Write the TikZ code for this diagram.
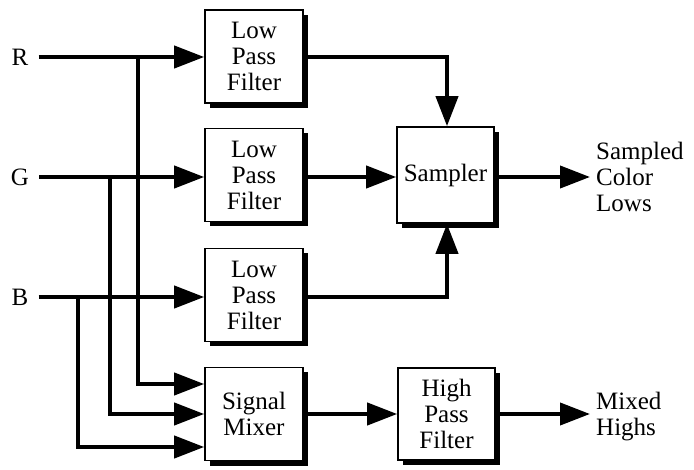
\documentclass[tikz,border=0pt]{standalone}
\usepackage{fontspec}
\setmainfont{Liberation Serif}
\usetikzlibrary{arrows.meta,shadows}
\begin{document}
\begin{tikzpicture}[x=1pt,y=-1pt,
  font=\fontsize{25}{26}\selectfont,
  blk/.style={draw,line width=1.6pt,fill=white,minimum width=98pt,minimum height=93pt,
    inner sep=0pt,align=center,
    drop shadow={shadow xshift=5pt,shadow yshift=-5pt,fill=black,opacity=1}},
  wire/.style={line width=4pt},
  arr/.style={wire,-{Triangle[length=30pt,width=22pt]}},
  lbl/.style={inner sep=0pt,align=left}]
\useasboundingbox (0,0) rectangle (694,470);
% inputs
\node[lbl] (R) at (20,57) {R};
\node[lbl] (G) at (20,177) {G};
\node[lbl] (B) at (20,297) {B};
% boxes
\node[blk] (lpf1) at (254,56.5) {Low\\Pass\\Filter};
\node[blk] (lpf2) at (254,175) {Low\\Pass\\Filter};
\node[blk] (lpf3) at (254,295) {Low\\Pass\\Filter};
\node[blk] (mix) at (254,414) {Signal\\Mixer};
\node[blk,minimum width=97pt,minimum height=96pt] (smp) at (445.5,175) {Sampler};
\node[blk,minimum width=97pt,minimum height=92pt] (hpf) at (446.5,414) {High\\Pass\\Filter};
% outputs
\node[lbl,anchor=west] (out1) at (596,177) {Sampled\\Color\\Lows};
\node[lbl,anchor=west] (out2) at (596,417) {Mixed\\Highs};
% junctions
\coordinate (jR) at (138,57);
\coordinate (jG) at (110,177);
\coordinate (jB) at (78,297);
\coordinate (cR) at (138,384);
\coordinate (cG) at (110,414);
\coordinate (cB) at (78,447);
\coordinate (t1) at (447,57);
\coordinate (t3) at (447,297);
% wires
\draw[arr] ([xshift=10pt]R.east) -- (lpf1.west |- R);
\draw[arr] ([xshift=10pt]G.east) -- (lpf2.west |- G);
\draw[arr] ([xshift=10pt]B.east) -- (lpf3.west |- B);
\draw[arr] (jR) -- (cR) -- (mix.west |- cR);
\draw[arr] (jG) -- (cG) -- (mix.west |- cG);
\draw[arr] (jB) -- (cB) -- (mix.west |- cB);
\draw[arr] (lpf1.east |- t1) -- (t1) -- (smp.north -| t1);
\draw[arr] (lpf2.east |- G) -- (smp.west |- G);
\draw[arr] (lpf3.east |- t3) -- (t3) -- (smp.south -| t3);
\draw[arr] (smp.east |- G) -- ([xshift=-6pt]out1.west |- G);
\draw[arr] (mix.east) -- (hpf.west);
\draw[arr] (hpf.east) -- ([xshift=-6pt]out2.west |- hpf);
\end{tikzpicture}
\end{document}
